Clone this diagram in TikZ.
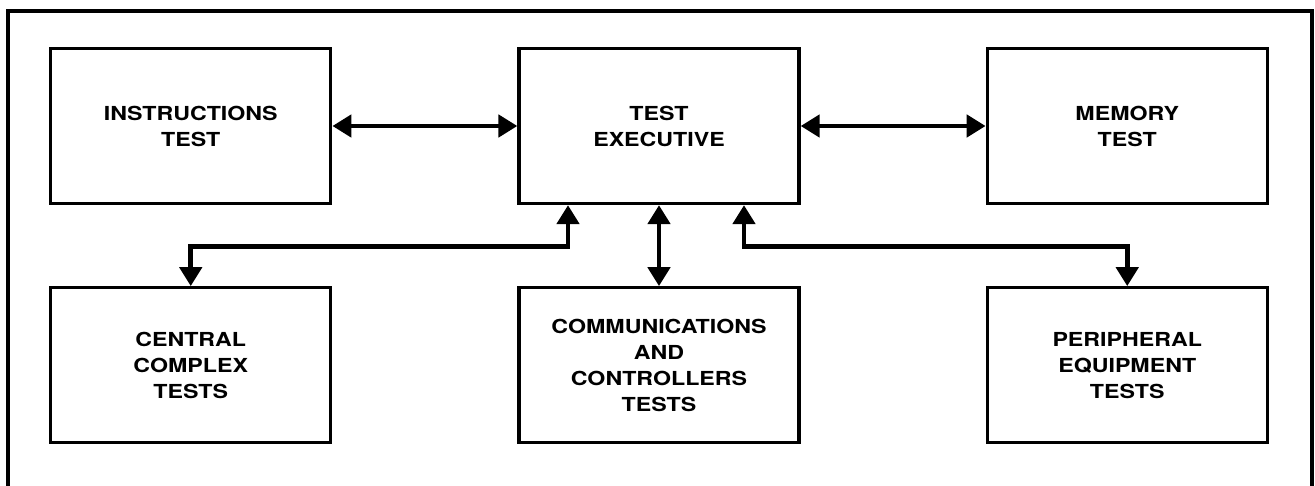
\documentclass[tikz,border=0pt]{standalone}
\usepackage{fontspec}
\setsansfont[FakeStretch=1.2]{TeX Gyre Heros}
\usetikzlibrary{arrows.meta, positioning, calc}

\begin{document}
\begin{tikzpicture}[
        x=0.02cm, y=-0.02cm,
        font=\sffamily\bfseries\fontsize{11}{14.8}\selectfont,
        node distance=1.62cm and 3.7cm,
        testbox/.style={
          draw,
          line width=1.9pt,
          minimum width=5.6cm,
          minimum height=3.1cm,
          align=center,
          inner sep=4pt
        },
        biflow/.style={{Triangle[length=3.8mm, width=4.4mm]}-{Triangle[length=3.8mm, width=4.4mm]}, line width=2.7pt},
        frame/.style={line width=1.9pt}
      ]
      \useasboundingbox (0,0) rectangle (1315,486);

      % outer frame, open at the bottom
      \draw[frame] (8,486) -- (8,11) -- (1312,11) -- (1312,486);

      \node[testbox] (exec) at (659,126) {TEST\\EXECUTIVE};
      \node[testbox, left=of exec] (instr) {INSTRUCTIONS\\TEST};
      \node[testbox, right=of exec] (mem) {MEMORY\\TEST};

      \node[testbox, below=of instr] (central) {CENTRAL\\COMPLEX\\TESTS};
      \node[testbox, below=of exec] (comm) {COMMUNICATIONS\\AND\\CONTROLLERS\\TESTS};
      \node[testbox, below=of mem] (periph) {PERIPHERAL\\EQUIPMENT\\TESTS};

      \coordinate (jl) at ($(exec.south)+(-91,41)$);
      \coordinate (jr) at ($(exec.south)+(85,41)$);

      \draw[biflow] (instr.east) -- (exec.west);
      \draw[biflow] (exec.east) -- (mem.west);
      \draw[biflow] (central.north) |- (jl) -- (jl |- exec.south);
      \draw[biflow] (exec.south) -- (comm.north);
      \draw[biflow] (periph.north) |- (jr) -- (jr |- exec.south);
    \end{tikzpicture}
\end{document}
